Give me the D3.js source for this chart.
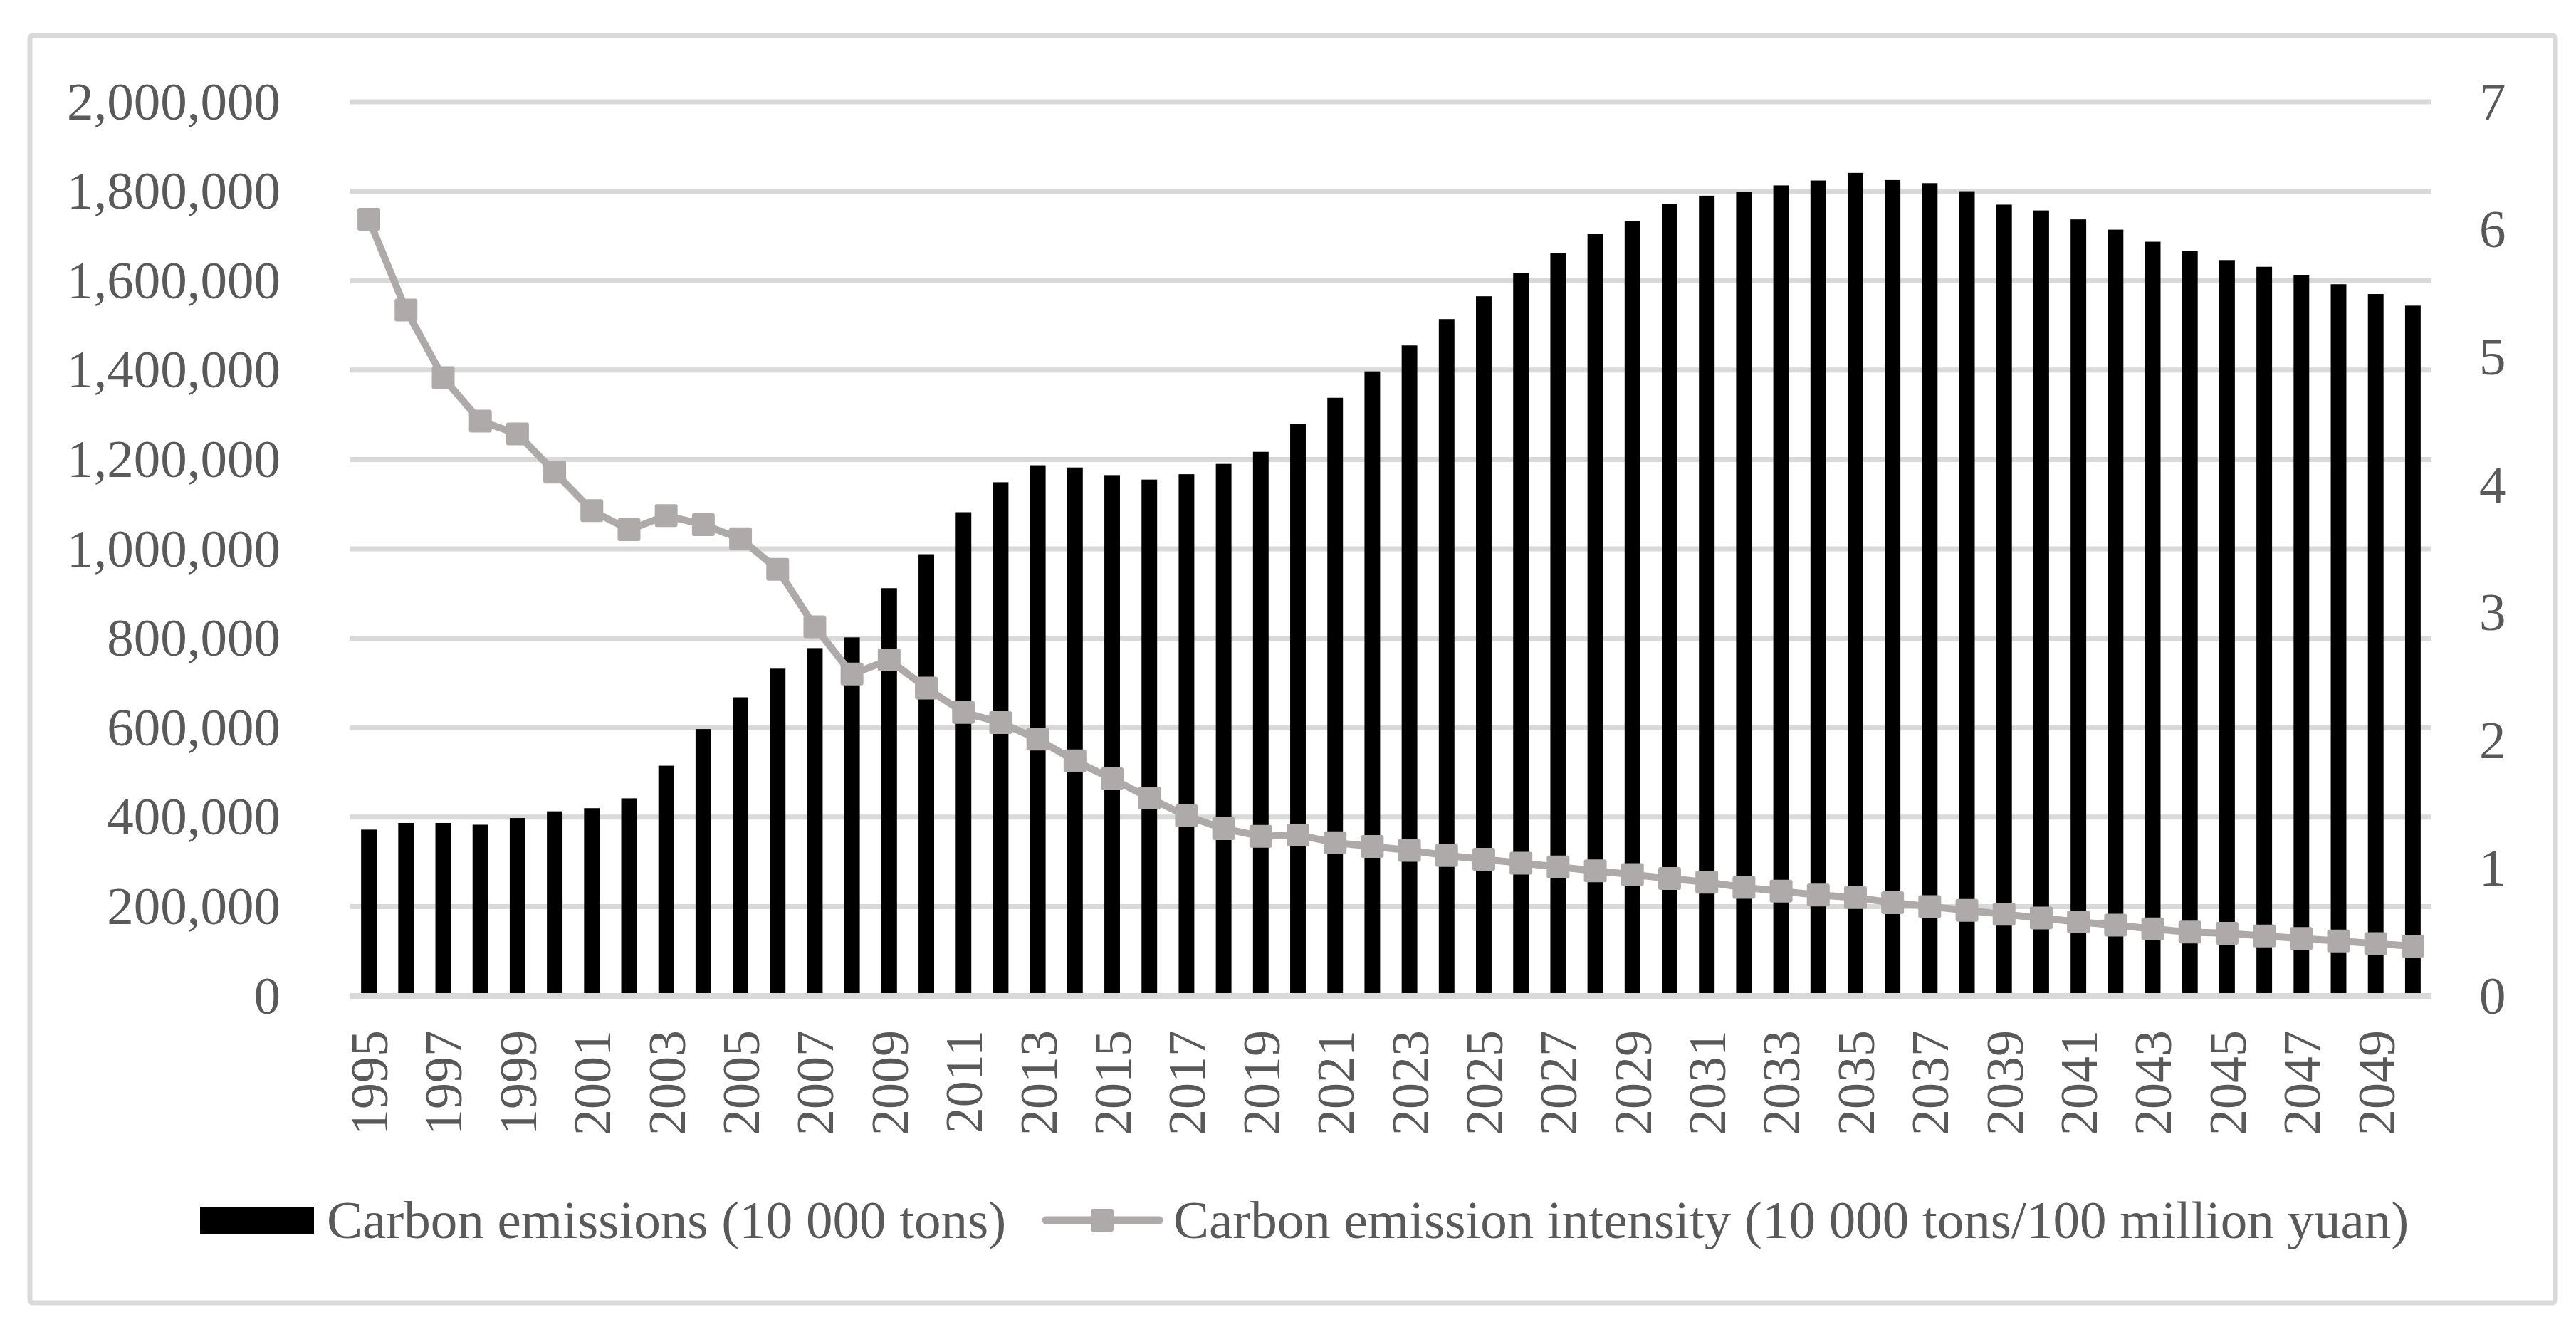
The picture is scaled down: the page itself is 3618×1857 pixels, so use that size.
<!DOCTYPE html>
<html>
<head>
<meta charset="utf-8">
<script src="https://cdn.jsdelivr.net/npm/d3@7"></script>
<style>
  body { margin: 0; background: #fff; }
  svg { display: block; }
</style>
</head>
<body>
<div id="chart"></div>
<script>
// categories
const years = [1995, 1996, 1997, 1998, 1999, 2000, 2001, 2002, 2003, 2004,
  2005, 2006, 2007, 2008, 2009, 2010, 2011, 2012, 2013, 2014,
  2015, 2016, 2017, 2018, 2019, 2020, 2021, 2022, 2023, 2024,
  2025, 2026, 2027, 2028, 2029, 2030, 2031, 2032, 2033, 2034,
  2035, 2036, 2037, 2038, 2039, 2040, 2041, 2042, 2043, 2044,
  2045, 2046, 2047, 2048, 2049, 2050];

// Carbon emissions (10 000 tons), bars, left axis
const emissions = [372000, 387000, 387000, 383000, 398000, 413000, 420000, 442000, 515000, 597000,
  668000, 732000, 778000, 802000, 912000, 988000, 1082000, 1149000, 1187000, 1182000,
  1165000, 1155000, 1167000, 1190000, 1217000, 1279000, 1338000, 1397000, 1455000, 1514000,
  1565000, 1617000, 1661000, 1705000, 1734000, 1771000, 1790000, 1798000, 1813000, 1824000,
  1841000, 1825000, 1818000, 1800000, 1770000, 1757000, 1737000, 1714000, 1687000, 1666000,
  1646000, 1631000, 1613000, 1592000, 1570000, 1544000];

// Carbon emission intensity (10 000 tons/100 million yuan), line, right axis
const intensity = [6.08, 5.37, 4.84, 4.50, 4.40, 4.10, 3.80, 3.65, 3.76, 3.69,
  3.58, 3.34, 2.89, 2.52, 2.63, 2.41, 2.22, 2.14, 2.01, 1.84,
  1.70, 1.55, 1.41, 1.31, 1.25, 1.26, 1.20, 1.17, 1.14, 1.10,
  1.07, 1.04, 1.01, 0.98, 0.95, 0.92, 0.89, 0.85, 0.82, 0.79,
  0.77, 0.73, 0.70, 0.67, 0.64, 0.61, 0.58, 0.555, 0.525, 0.50,
  0.49, 0.47, 0.45, 0.43, 0.41, 0.39];

// tick labels
const leftTicks = [0, 200000, 400000, 600000, 800000, 1000000, 1200000, 1400000, 1600000, 1800000, 2000000];
const rightTicks = [0, 1, 2, 3, 4, 5, 6, 7];
const yearTicks = years.filter((d, i) => i % 2 === 0);

const legendLabels = ["Carbon emissions (10 000 tons)", "Carbon emission intensity (10 000 tons/100 million yuan)"];

const W = 3618, H = 1857;
const plot = { left: 492, right: 3415, top: 143, bottom: 1399 };
const FONT = "'Liberation Serif', 'Times New Roman', serif";
const TEXT = "#595959", GRID = "#d9d9d9", LINE = "#aeaaaa";

const data = years.map((y, i) => ({ year: y, e: emissions[i], k: intensity[i] }));

const svg = d3.select("#chart")
  .append("svg")
  .attr("width", W)
  .attr("height", H)
  .style("font-family", FONT);

svg.append("rect").attr("width", W).attr("height", H).attr("fill", "#fff");

// outer frame
svg.append("rect")
  .attr("x", 42).attr("y", 50)
  .attr("width", 3547).attr("height", 1780)
  .attr("rx", 4)
  .attr("fill", "none")
  .attr("stroke", GRID)
  .attr("stroke-width", 7);

const x = d3.scaleBand()
  .domain(years)
  .range([plot.left, plot.right])
  .paddingInner(0.58)
  .paddingOuter(0.29);

const yL = d3.scaleLinear().domain([0, 2000000]).range([plot.bottom, plot.top]);
const yR = d3.scaleLinear().domain([0, 7]).range([plot.bottom, plot.top]);

// horizontal gridlines
svg.append("g")
  .selectAll("line")
  .data(leftTicks.slice(1))
  .join("line")
  .attr("x1", plot.left)
  .attr("x2", plot.right)
  .attr("y1", d => yL(d))
  .attr("y2", d => yL(d))
  .attr("stroke", GRID)
  .attr("stroke-width", 7);

// bars
svg.append("g")
  .selectAll("rect")
  .data(data)
  .join("rect")
  .attr("x", d => x(d.year))
  .attr("width", x.bandwidth())
  .attr("y", d => yL(d.e))
  .attr("height", d => yL(0) - yL(d.e))
  .attr("fill", "#000");

// baseline
svg.append("line")
  .attr("x1", plot.left)
  .attr("x2", plot.right)
  .attr("y1", yL(0))
  .attr("y2", yL(0))
  .attr("stroke", GRID)
  .attr("stroke-width", 8);

// intensity line
const line = d3.line()
  .x(d => x(d.year) + x.bandwidth() / 2)
  .y(d => yR(d.k));

svg.append("path")
  .datum(data)
  .attr("fill", "none")
  .attr("stroke", LINE)
  .attr("stroke-width", 10)
  .attr("stroke-linejoin", "round")
  .attr("d", line);

const ms = 32;
svg.append("g")
  .selectAll("rect")
  .data(data)
  .join("rect")
  .attr("x", d => x(d.year) + x.bandwidth() / 2 - ms / 2)
  .attr("y", d => yR(d.k) - ms / 2)
  .attr("width", ms)
  .attr("height", ms)
  .attr("rx", 3)
  .attr("fill", LINE);

// left axis
svg.append("g")
  .attr("transform", `translate(${plot.left},0)`)
  .call(d3.axisLeft(yL)
    .tickValues(leftTicks)
    .tickFormat(d3.format(","))
    .tickSize(0)
    .tickPadding(98))
  .call(g => g.select(".domain").remove())
  .selectAll("text")
  .style("font-family", FONT)
  .style("font-size", "75px")
  .attr("fill", TEXT);

// right axis
svg.append("g")
  .attr("transform", `translate(${plot.right},0)`)
  .call(d3.axisRight(yR)
    .tickValues(rightTicks)
    .tickFormat(d3.format("d"))
    .tickSize(0)
    .tickPadding(67))
  .call(g => g.select(".domain").remove())
  .selectAll("text")
  .style("font-family", FONT)
  .style("font-size", "75px")
  .attr("fill", TEXT);

// year axis
svg.append("g")
  .attr("transform", `translate(0,${plot.bottom})`)
  .call(d3.axisBottom(x)
    .tickValues(yearTicks)
    .tickSize(0))
  .call(g => g.select(".domain").remove())
  .selectAll("text")
  .attr("transform", "rotate(-90)")
  .attr("x", -48)
  .attr("y", 0)
  .attr("dy", "0.35em")
  .style("text-anchor", "end")
  .style("font-family", FONT)
  .style("font-size", "74px")
  .attr("fill", TEXT);

// legend
const legend = svg.append("g");

legend.append("rect")
  .attr("x", 281).attr("y", 1695)
  .attr("width", 160).attr("height", 38)
  .attr("fill", "#000");

legend.append("text")
  .attr("x", 459).attr("y", 1739)
  .style("font-size", "75px")
  .attr("fill", TEXT)
  .text(legendLabels[0]);

legend.append("line")
  .attr("x1", 1469).attr("x2", 1628)
  .attr("y1", 1714).attr("y2", 1714)
  .attr("stroke", LINE)
  .attr("stroke-width", 11)
  .attr("stroke-linecap", "round");

legend.append("rect")
  .attr("x", 1548 - ms / 2).attr("y", 1714 - ms / 2)
  .attr("width", ms).attr("height", ms)
  .attr("rx", 3)
  .attr("fill", LINE);

legend.append("text")
  .attr("x", 1648).attr("y", 1739)
  .style("font-size", "75px")
  .attr("fill", TEXT)
  .text(legendLabels[1]);
</script>
</body>
</html>
